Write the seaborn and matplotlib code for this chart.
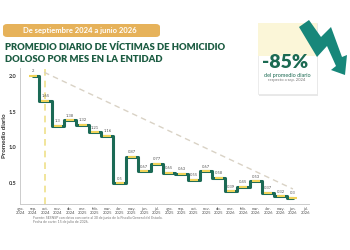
import matplotlib
matplotlib.use("Agg")
import matplotlib.pyplot as plt
import seaborn as sns
import pandas as pd
from matplotlib.patches import FancyBboxPatch, Rectangle, Polygon

sns.set_theme(style="white")
plt.rcParams['font.family'] = ['Lato', 'DejaVu Sans']

# ---- data ----
tick_labels = ["ago.\n2024", "sep.\n2024", "oct.\n2024", "nov.\n2024", "dic.\n2024",
               "ene.\n2025", "feb.\n2025", "mar.\n2025", "abr.\n2025", "may.\n2025",
               "jun.\n2025", "jul.\n2025", "ago.\n2025", "sep.\n2025", "oct.\n2025",
               "nov.\n2025", "dic.\n2025", "ene.\n2026", "feb.\n2026", "mar.\n2026",
               "abr.\n2026", "may.\n2026", "jun.\n2026", "jul.\n2026"]
months = tick_labels[1:23]
values = [2, 1.65, 1.3, 1.38, 1.32, 1.21, 1.16, 0.5, 0.87, 0.67, 0.77,
          0.65, 0.63, 0.55, 0.67, 0.58, 0.39, 0.45, 0.53, 0.37, 0.32, 0.3]
value_labels = ["2", "1.65", "1.3", "1.38", "1.32", "1.21", "1.16", "0.5", "0.87", "0.67",
                "0.77", "0.65", "0.63", "0.55", "0.67", "0.58", "0.39", "0.45", "0.53",
                "0.37", "0.32", "0.3"]
trend_start = 2.05
trend_end = 0.42
y_ticks = [0.5, 1.0, 1.5, 2.0]

W, H = 350, 250
def px(x, y):
    return (x / W, 1 - y / H)

fig = plt.figure(figsize=(3.5, 2.5), dpi=100)
fig.patch.set_facecolor("white")
l, b = px(20, 204)
r, t = px(309, 68)
ax = fig.add_axes([l, b, r - l, t - b])

pos = list(range(1, 1 + len(values)))
df = pd.DataFrame({"pos": pos, "valor": values, "mes": months})

sns.lineplot(data=df, x="pos", y="valor", ax=ax, drawstyle="steps-mid",
             color="#1b6a55", linewidth=2.2, zorder=3)
ax.scatter(df["pos"], df["valor"], marker="_", s=30, color="#f0d35a", linewidths=1.5, zorder=4)
for x, v, s in zip(pos, values, value_labels):
    ax.text(x, v + 0.035, s, ha="center", va="bottom", fontsize=3, color="#555555", zorder=5)

# trend dashed line
ax.plot([pos[1] - 0.1, pos[-1]], [trend_start, trend_end], ls=(0, (4, 3)), color="#d9d2c5",
        lw=1.0, zorder=2)
# vertical yellow dashed line at oct 2024
ax.axvline(pos[1], ls=(0, (4, 3)), color="#efe08a", lw=1.2, zorder=1)

ax.set_xlim(-0.05, 23.3)
ax.set_ylim(0.21, 2.11)
ax.set_xticks(range(len(tick_labels)))
ax.set_xticklabels(tick_labels, fontsize=3, color="#555555", linespacing=1.0)
ax.set_yticks(y_ticks)
ax.set_yticklabels([f"{v:.1f}" for v in y_ticks], fontsize=4, color="#333333", fontweight="bold")
ax.set_xlabel("")
ax.set_ylabel("Promedio diario", fontsize=4.5, color="#333333", fontweight="bold")
ax.yaxis.set_label_coords(-0.045, 0.5)
ax.tick_params(axis="both", length=1.5, pad=1.0, color="#bbbbbb", width=0.5)
sns.despine(ax=ax)
for s in ["left", "bottom"]:
    ax.spines[s].set_color("#cccccc")
    ax.spines[s].set_linewidth(0.7)

# source text
fig.text(*px(33, 218), "Fuente: SESNSP con datos con corte al 30 de junio de la Fiscalía General del Estado.",
         fontsize=2.5, color="#777777", va="center")
fig.text(*px(33, 222), "Fecha de corte: 15 de julio de 2026.", fontsize=2.5, color="#777777", va="center")

# header pill
x0, y0 = px(3, 37)
x1, y1 = px(160, 24)
fig.add_artist(FancyBboxPatch((x0, y0), x1 - x0, y1 - y0,
                              boxstyle="round,pad=0,rounding_size=0.012",
                              transform=fig.transFigure, facecolor="#e6b25a", edgecolor="none"))
fig.text(*px(80, 30.5), "De septiembre 2024 a junio 2026", fontsize=5.5, color="white",
         fontweight="bold", ha="center", va="center")

# title
fig.text(*px(5, 48), "PROMEDIO DIARIO DE VÍCTIMAS DE HOMICIDIO", fontsize=6.8,
         color="#1c5c42", fontweight="heavy", va="center")
fig.text(*px(5, 59), "DOLOSO POR MES EN LA ENTIDAD", fontsize=6.8,
         color="#1c5c42", fontweight="heavy", va="center")

# right box
bx0, by0 = px(258, 94)
bx1, by1 = px(317, 23)
fig.add_artist(Rectangle((bx0 + 0.004, by0 - 0.006), bx1 - bx0, by1 - by0,
                         transform=fig.transFigure, facecolor="#e8e8e8", edgecolor="none"))
fig.add_artist(Rectangle((bx0, by0), bx1 - bx0, by1 - by0,
                         transform=fig.transFigure, facecolor="white", edgecolor="#e5e5e5", lw=0.5))
yx0, yy0 = px(258, 56)
fig.add_artist(Rectangle((yx0, yy0), bx1 - bx0, by1 - yy0,
                         transform=fig.transFigure, facecolor="#fbf6d8", edgecolor="none"))
fig.text(*px(285, 62), "-85%", fontsize=14, color="#1b6a52", fontweight="heavy",
         ha="center", va="center")
fig.text(*px(287, 75), "del promedio diario", fontsize=4, color="#1b6a52",
         ha="center", va="center")
fig.text(*px(287, 80), "respecto a sep. 2024", fontsize=3, color="#777777",
         ha="center", va="center")

# arrow
band = [(299, 27), (309, 20), (321, 37), (331, 27), (342, 57), (347, 55), (345, 75),
        (331, 70), (336, 66), (327, 46), (317, 57)]
fig.add_artist(Polygon([px(x, y) for x, y in band], closed=True, transform=fig.transFigure,
                       facecolor="#17877a", edgecolor="none"))

fig.savefig("out.png", dpi=100, facecolor="white")
